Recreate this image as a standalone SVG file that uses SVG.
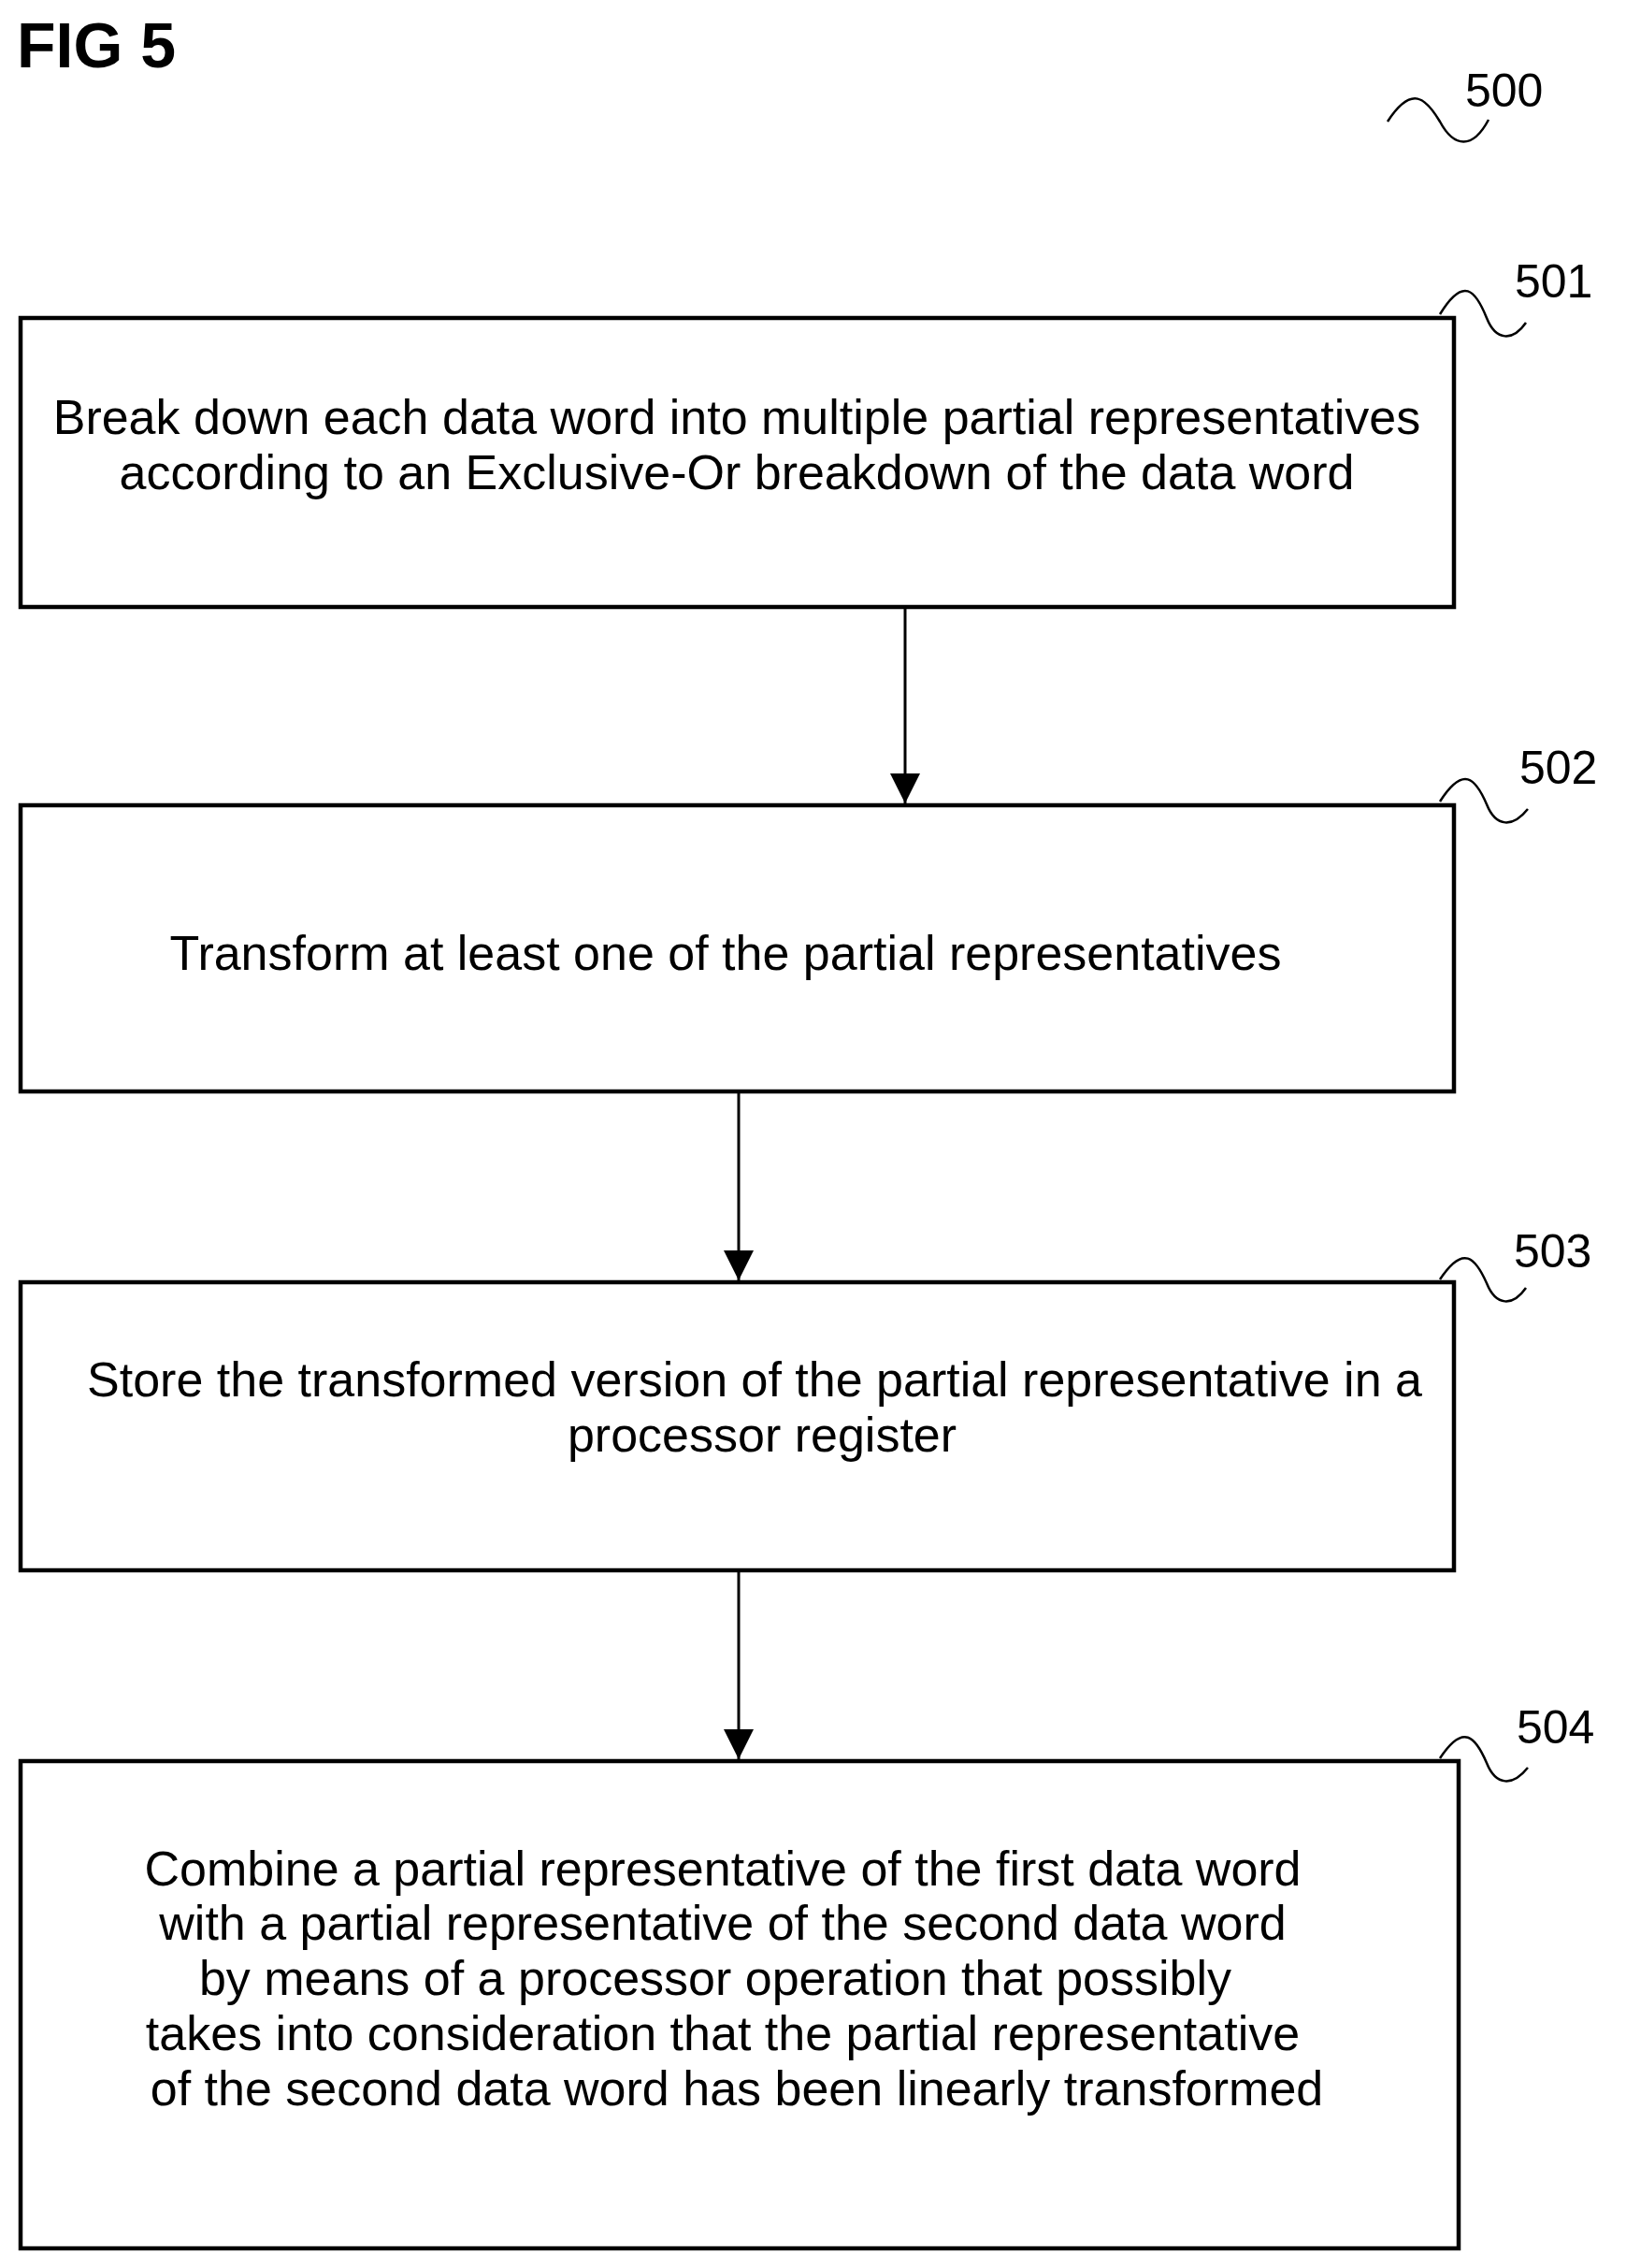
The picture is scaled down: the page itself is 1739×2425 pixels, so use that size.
<svg xmlns="http://www.w3.org/2000/svg" width="1739" height="2425" viewBox="0 0 1739 2425">
<style>
.box{fill:#fff;stroke:#000;stroke-width:4.5}
.t{font-family:"Liberation Sans",Arial,sans-serif;font-size:52px;text-anchor:middle;fill:#000}
.lb{font-family:"Liberation Sans",Arial,sans-serif;font-size:50px;fill:#000}
.sq{fill:none;stroke:#000;stroke-width:2.5}
.c{stroke:#000;stroke-width:3;fill:none}
</style>
<defs>
<marker id="a" viewBox="0 0 10 10" refX="10" refY="5" markerWidth="32" markerHeight="32" orient="auto" markerUnits="userSpaceOnUse"><path d="M0,0 L10,5 L0,10 Z"/></marker></defs>
<text x="18" y="72" font-family="'Liberation Sans',Arial,sans-serif" font-weight="bold" font-size="68">FIG 5</text>
<g id="label500"><text class="lb" x="1567" y="114">500</text><path class="sq" d="M1484,130 C1510,90 1525,105 1540,130 C1555,158 1575,160 1592,128"/></g>
<g id="connectors">
<line class="c" x1="968" y1="651" x2="968" y2="859" marker-end="url(#a)"/>
<line class="c" x1="790" y1="1169" x2="790" y2="1369" marker-end="url(#a)"/>
<line class="c" x1="790" y1="1681" x2="790" y2="1881" marker-end="url(#a)"/>
</g>
<g id="n501"><rect class="box" x="22" y="340" width="1533" height="309"/>
<text class="t" x="788" y="464">Break down each data word into multiple partial representatives</text>
<text class="t" x="788" y="523">according to an Exclusive-Or breakdown of the data word</text>
<text class="lb" x="1620" y="318">501</text><path class="sq" d="M1540,336 C1565,295 1578,310 1590,340 C1600,365 1618,365 1632,345"/></g>
<g id="n502"><rect class="box" x="22" y="861" width="1533" height="306"/>
<text class="t" x="776" y="1037">Transform at least one of the partial representatives</text>
<text class="lb" x="1625" y="838">502</text><path class="sq" d="M1540,857 C1565,818 1578,832 1590,860 C1600,885 1618,885 1634,865"/></g>
<g id="n503"><rect class="box" x="22" y="1371" width="1533" height="308"/>
<text class="t" x="807" y="1493">Store the transformed version of the partial representative in a</text>
<text class="t" x="815" y="1552">processor register</text>
<text class="lb" x="1619" y="1355">503</text><path class="sq" d="M1540,1368 C1565,1330 1578,1345 1590,1372 C1600,1397 1618,1397 1632,1377"/></g>
<g id="n504"><rect class="box" x="22" y="1883" width="1538" height="521"/>
<text class="t" x="773" y="2016">Combine a partial representative of the first data word</text>
<text class="t" x="773" y="2074">with a partial representative of the second data word</text>
<text class="t" x="765" y="2133">by means of a processor operation that possibly</text>
<text class="t" x="773" y="2192">takes into consideration that the partial representative</text>
<text class="t" x="788" y="2251">of the second data word has been linearly transformed</text>
<text class="lb" x="1622" y="1864">504</text><path class="sq" d="M1540,1880 C1565,1842 1578,1857 1590,1885 C1600,1910 1618,1910 1634,1890"/></g>
</svg>
